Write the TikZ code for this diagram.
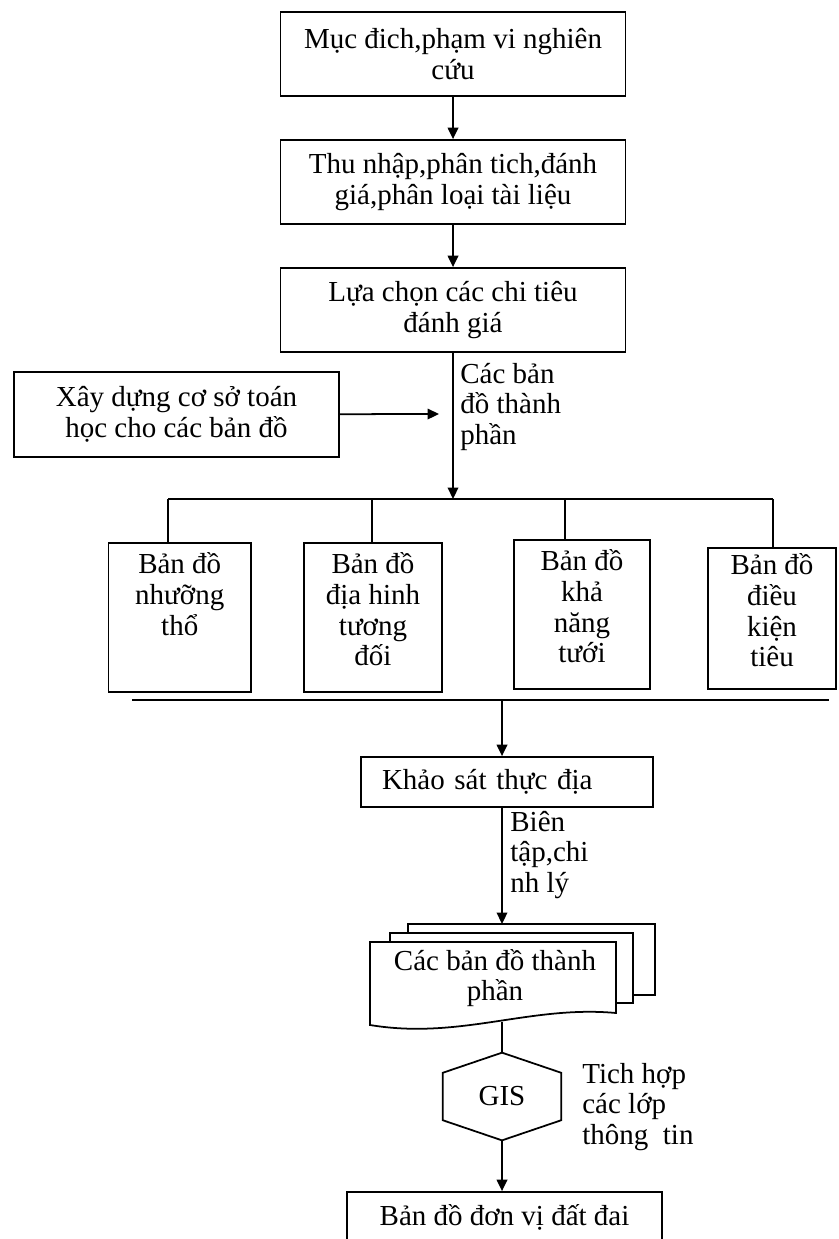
\documentclass[tikz,border=0pt]{standalone}
\usepackage{fontspec}
\setmainfont{Liberation Serif}
\usetikzlibrary{arrows.meta, positioning, calc}
\newcommand{\maptext}[1]{\parbox[t][2.6cm][t]{2.5cm}{\centering #1}}
\tikzset{
    block/.style={rectangle, draw, line width=1pt, fill=white, align=center, minimum width=6.9cm, minimum height=1.68cm, inner sep=0pt, font=\fontsize{16.5}{17.5}\selectfont},
    mapbox/.style={rectangle, draw, line width=1pt, minimum height=2.98cm, inner sep=0pt, font=\fontsize{16.5}{17.5}\selectfont},
    note/.style={anchor=west, align=left, inner sep=0pt, font=\fontsize{16.5}{17.5}\selectfont},
    sheet/.style={draw, line width=1pt, fill=white},
    arrowline/.style={draw, line width=1pt, -{Triangle[length=6.5pt,width=6pt]}},
    plainline/.style={draw, line width=1pt},
}
\begin{document}
\begin{tikzpicture}

    \useasboundingbox (0,0) rectangle (16.78,-24.78);

    % Chuoi buoc phia tren
    \node[block] (muc) at (9.06,-1.08) {Mục đich,phạm vi nghiên\\cứu};
    \node[block] (thunhap) at (9.06,-3.64) {Thu nhập,phân tich,đánh\\giá,phân loại tài liệu};
    \node[block] (luachon) at (9.06,-6.2) {Lựa chọn các chi tiêu\\đánh giá};

    \node[block, minimum width=6.5cm, minimum height=1.7cm] (xaydung) at (3.53,-8.29) {Xây dựng cơ sở toán\\học cho các bản đồ};
    \coordinate (toanhoc) at (8.78,-8.28);
    \node[note] (cacban) at (9.2,-8.14) {Các bản\\đồ thành\\phần};

    \draw[arrowline] (muc) -- (thunhap);
    \draw[arrowline] (thunhap) -- (luachon);
    \coordinate (branch) at (9.06,-9.98);
    \draw[arrowline] (luachon) -- (branch);
    \draw[arrowline] (xaydung) -- (toanhoc);

    % Cac ban do thanh phan
    \node[mapbox, minimum width=2.85cm] (nhuong) at (3.595,-12.35) {\maptext{Bản đồ\\nhưỡng\\thổ}};
    \node[mapbox, minimum width=2.76cm] (diahinh) at (7.46,-12.35) {\maptext{Bản đồ\\địa hinh\\tương\\đối}};
    \node[mapbox, minimum width=2.72cm] (khanang) at (11.64,-12.29) {\maptext{Bản đồ\\khả\\năng\\tưới}};
    \node[mapbox, minimum width=2.56cm, minimum height=2.82cm] (dieukien) at (15.44,-12.37) {\maptext{Bản đồ\\điều\\kiện\\tiêu}};

    \coordinate (d1) at (3.36,-9.98);
    \coordinate (d2) at (7.44,-9.98);
    \coordinate (d3) at (11.3,-9.98);
    \coordinate (d4) at (15.46,-9.98);
    \draw[plainline] (d1) -- (d4);
    \foreach \d/\b in {d1/nhuong, d2/diahinh, d3/khanang, d4/dieukien}
        \draw[plainline] (\d) -- (\d |- \b.north);

    \coordinate (barleft) at (2.64,-14.0);
    \coordinate (barright) at (16.58,-14.0);
    \coordinate (join) at (10.04,-14.0);
    \draw[plainline, line width=1.3pt] (barleft) -- (barright);

    % Khao sat va bien tap
    \node[block, minimum width=5.84cm, minimum height=1.0cm, text width=5.0cm, align=left, inner xsep=0.42cm] (khaosat) at (10.14,-15.64) {Khảo sát thực địa};
    \draw[arrowline] (join) -- (join |- khaosat.north);

    \node[note] (bientap) at (10.2,-17.1) {Biên\\tập,chi\\nh lý};
    \coordinate (stacktop) at (10.04,-18.48);
    \draw[arrowline] (khaosat.south -| join) -- (stacktop);

    % Chong ban do
    \draw[sheet] (8.16,-18.48) rectangle (13.1,-19.9);
    \draw[sheet] (7.8,-18.66) rectangle (12.66,-20.06);
    \draw[sheet] (7.4,-20.5) -- (7.4,-18.84) -- (12.32,-18.84) -- (12.32,-20.26)
        .. controls (10.6,-20.1) and (9.2,-20.8) .. (7.4,-20.5) -- cycle;
    \node[align=center, inner sep=0pt, font=\fontsize{16.5}{17.5}\selectfont] (thanhphan) at (9.9,-19.56) {Các bản đồ thành\\phần};
    \coordinate (stackbottom) at (10.04,-20.44);

    % GIS
    \node[minimum width=2.36cm, minimum height=1.74cm, inner sep=0pt, font=\fontsize{16.5}{17.5}\selectfont] (gis) at (10.04,-21.93) {GIS};
    \draw[plainline] (gis.north) -- ($(gis.north east)!0.23!(gis.south east)$) -- ($(gis.south east)!0.23!(gis.north east)$)
        -- (gis.south) -- ($(gis.south west)!0.23!(gis.north west)$) -- ($(gis.north west)!0.23!(gis.south west)$) -- cycle;
    \draw[plainline] (stackbottom) -- (gis.north);
    \node[note] (tichhop) at (11.64,-22.14) {Tich hợp\\các lớp\\thông~~tin};

    \node[block, minimum width=6.3cm, minimum height=1.0cm] (ketqua) at (10.09,-24.34) {Bản đồ đơn vị đất đai};
    \draw[arrowline] (gis.south) -- (gis.south |- ketqua.north);

\end{tikzpicture}
\end{document}
